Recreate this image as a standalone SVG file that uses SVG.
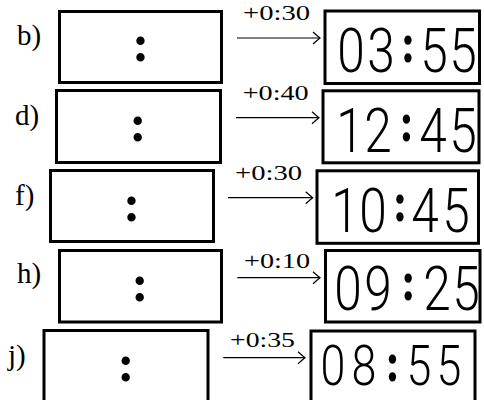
<svg xmlns="http://www.w3.org/2000/svg" width="484" height="400" viewBox="0 0 484 400">
<style>
.box{fill:#fff;stroke:#000;stroke-width:3}
.lbl{font-family:"Liberation Serif",serif;font-size:29px;fill:#000}
.add{font-family:"Liberation Serif",serif;font-size:22px;fill:#000}
.col{font-family:"Liberation Serif",serif;font-weight:bold;font-size:52px;fill:#000;text-anchor:middle}
.dig{font-family:Roboto,"Liberation Sans",sans-serif;font-weight:300;font-size:62px;fill:#000;text-anchor:middle}
.dig .col{font-size:57px}
.arr{stroke:#000;stroke-width:1.2;fill:none;marker-end:url(#hook)}
</style>
<defs>
<marker id="hook" markerUnits="userSpaceOnUse" viewBox="-9 -8 10 16" markerWidth="10" markerHeight="16" refX="0" refY="0" orient="auto">
<path d="M-7,-6 Q-2,-1.5 0,0 Q-2,1.5 -7,6" fill="none" stroke="#000" stroke-width="1.2"/>
</marker>
</defs>
<g id="connectors">
<line class="arr" x1="237" y1="38" x2="320" y2="38"/>
<line class="arr" x1="236" y1="117.7" x2="319" y2="117.7"/>
<line class="arr" x1="228" y1="197.7" x2="312.7" y2="197.7"/>
<line class="arr" x1="237.3" y1="277.7" x2="320" y2="277.7"/>
<line class="arr" x1="223.3" y1="357.7" x2="305" y2="357.7"/>
<text class="add" x="243" y="20" textLength="67" lengthAdjust="spacingAndGlyphs">+0:30</text>
<text class="add" x="242.7" y="100" textLength="66" lengthAdjust="spacingAndGlyphs">+0:40</text>
<text class="add" x="235" y="180" textLength="67" lengthAdjust="spacingAndGlyphs">+0:30</text>
<text class="add" x="244" y="268.3" textLength="66" lengthAdjust="spacingAndGlyphs">+0:10</text>
<text class="add" x="230" y="346.7" textLength="65" lengthAdjust="spacingAndGlyphs">+0:35</text>
</g>
<g id="row-b">
<text class="lbl" x="17" y="45">b)</text>
<rect class="box" x="59.5" y="11.5" width="162" height="71"/>
<text class="col" x="140.7" y="61">:</text>
</g>
<g id="clock-b">
<rect class="box" x="325" y="11" width="154.5" height="72.5"/>
<text class="dig" transform="scale(0.8,1)" y="72"><tspan x="438.75">0</tspan><tspan x="476.25">3</tspan><tspan class="col" x="510" y="62">:</tspan><tspan x="542.5" y="72">5</tspan><tspan x="578.75">5</tspan></text>
</g>
<g id="row-d">
<text class="lbl" x="15" y="125">d)</text>
<rect class="box" x="56.5" y="90.5" width="164" height="72"/>
<text class="col" x="138" y="141">:</text>
</g>
<g id="clock-d">
<rect class="box" x="323" y="90.8" width="156" height="72"/>
<text class="dig" transform="scale(0.8,1)" y="152"><tspan x="437.5">1</tspan><tspan x="472.5">2</tspan><tspan class="col" x="508.375" y="141">:</tspan><tspan x="541.25" y="152">4</tspan><tspan x="578.75">5</tspan></text>
</g>
<g id="row-f">
<text class="lbl" x="15" y="205">f)</text>
<rect class="box" x="50.5" y="170.5" width="163" height="71"/>
<text class="col" x="131.7" y="221">:</text>
</g>
<g id="clock-f">
<rect class="box" x="317" y="170.8" width="161.5" height="72.5"/>
<text class="dig" transform="scale(0.8,1)" y="232"><tspan x="431.25">1</tspan><tspan x="466.25">0</tspan><tspan class="col" x="500" y="221">:</tspan><tspan x="531.25" y="232">4</tspan><tspan x="570">5</tspan></text>
</g>
<g id="row-h">
<text class="lbl" x="17" y="283">h)</text>
<rect class="box" x="59.5" y="250.5" width="162" height="71.5"/>
<text class="col" x="140" y="301">:</text>
</g>
<g id="clock-h">
<rect class="box" x="325.5" y="250.5" width="154.5" height="71.5"/>
<text class="dig" transform="scale(0.8,1)" y="310"><tspan x="435">0</tspan><tspan x="472.5">9</tspan><tspan class="col" x="510.375" y="300">:</tspan><tspan x="546.25" y="310">2</tspan><tspan x="582.5">5</tspan></text>
</g>
<g id="row-j">
<text class="lbl" x="8" y="365">j)</text>
<rect class="box" x="44" y="330.5" width="164" height="72"/>
<text class="col" x="126" y="381">:</text>
</g>
<g id="clock-j">
<rect class="box" x="311" y="331" width="164" height="72"/>
<text class="dig" transform="scale(0.8,1)" y="385" style="font-size:56px"><tspan x="416.25">0</tspan><tspan x="455">8</tspan><tspan class="col" x="490.875" y="381">:</tspan><tspan x="523.75" y="385">5</tspan><tspan x="561.25">5</tspan></text>
</g>
</svg>
